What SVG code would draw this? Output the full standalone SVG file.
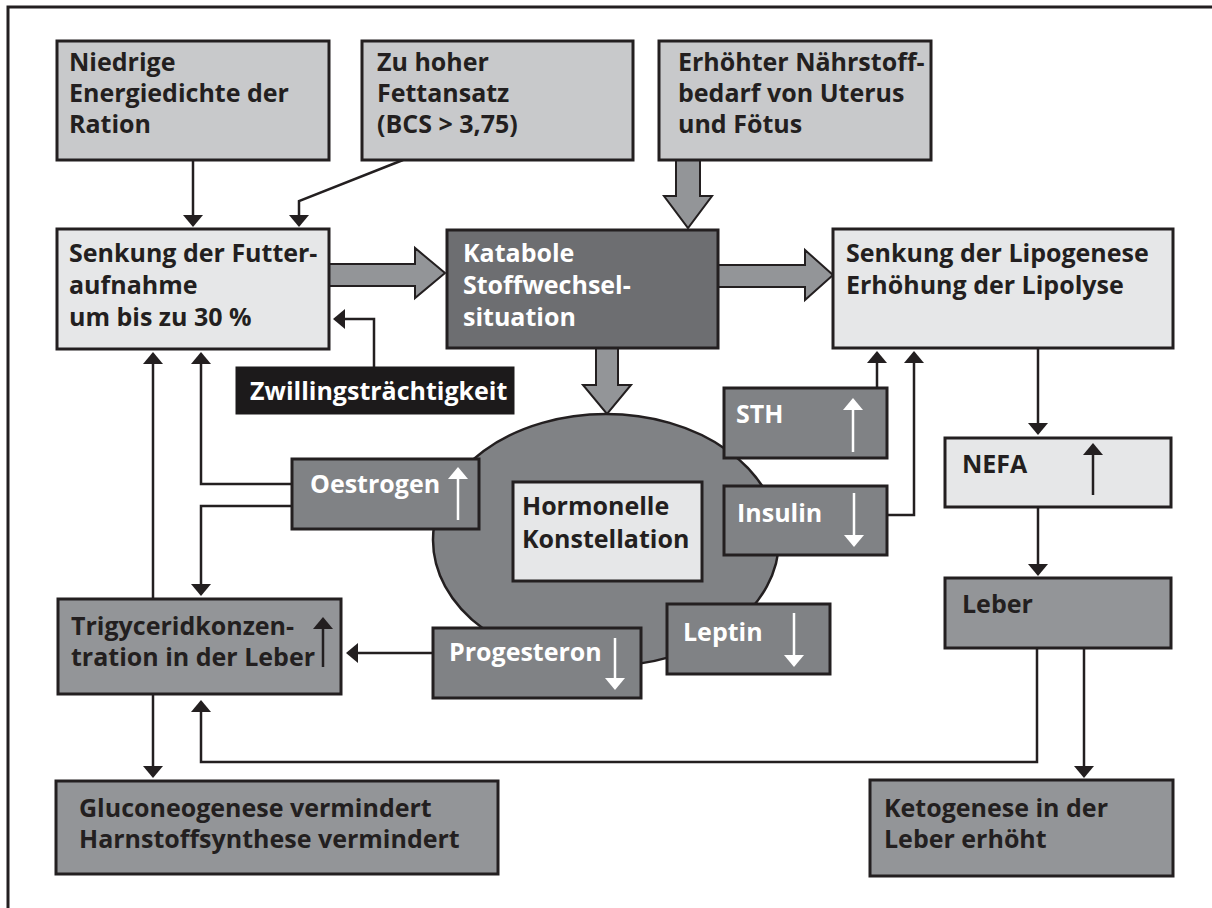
<svg xmlns="http://www.w3.org/2000/svg" width="1212" height="908" viewBox="0 0 1212 908">
<style>
  .box { stroke: #231f20; stroke-width: 3; }
  .l1 { fill: #c8c9cb; }
  .l2 { fill: #e6e7e8; }
  .m1 { fill: #939598; }
  .m2 { fill: #808285; }
  .d1 { fill: #6d6e71; }
  .blk { fill: #1c1a1b; stroke: #1c1a1b; stroke-width: 3; }
  text { font-family: "Open Sans", "Liberation Sans", sans-serif; font-weight: 700; font-size: 25px; fill: #231f20; }
  text.w { fill: #ffffff; }
  .con { fill: none; stroke: #231f20; stroke-width: 2.5; }
  .thick { fill: #939598; stroke: #231f20; stroke-width: 2; stroke-linejoin: miter; }
  .wa { stroke: #ffffff; stroke-width: 2.5; fill: none; }
  .ba { stroke: #231f20; stroke-width: 2.5; fill: none; }
</style>
<defs>
  <marker id="ah" markerUnits="userSpaceOnUse" markerWidth="12" markerHeight="20" viewBox="0 0 12 20" refX="6" refY="10" orient="auto">
    <path d="M0,0 L12,10 L0,20 z" fill="#231f20"/>
  </marker>
  <marker id="wh" markerUnits="userSpaceOnUse" markerWidth="12" markerHeight="20" viewBox="0 0 12 20" refX="6" refY="10" orient="auto">
    <path d="M0,0 L12,10 L0,20 z" fill="#ffffff"/>
  </marker>
</defs>
<rect width="1212" height="908" fill="#ffffff"/>
<path d="M8,908 V7 H1212" fill="none" stroke="#231f20" stroke-width="3"/>

<g id="connectors">
  <path class="con" d="M193,160 V221" marker-end="url(#ah)"/>
  <path class="con" d="M403,160 L299,201 V221" marker-end="url(#ah)"/>
  <path class="con" d="M374,368 V319 H339" marker-end="url(#ah)"/>
  <path class="con" d="M153,598 V358" marker-end="url(#ah)"/>
  <path class="con" d="M292,484 H201 V358" marker-end="url(#ah)"/>
  <path class="con" d="M292,506 H201 V590" marker-end="url(#ah)"/>
  <path class="con" d="M433,653 H352" marker-end="url(#ah)"/>
  <path class="con" d="M877,388 V357" marker-end="url(#ah)"/>
  <path class="con" d="M887,515 H914 V357" marker-end="url(#ah)"/>
  <path class="con" d="M1038,348 V429" marker-end="url(#ah)"/>
  <path class="con" d="M1038,507 V570" marker-end="url(#ah)"/>
  <path class="con" d="M1037,648 V762 H201 V706" marker-end="url(#ah)"/>
  <path class="con" d="M1084,648 V772" marker-end="url(#ah)"/>
  <path class="con" d="M153,694 V772" marker-end="url(#ah)"/>
  <polygon class="thick" points="329,264 415,264 415,248 445,273 415,298 415,286 329,286"/>
  <polygon class="thick" points="718,265 805,265 805,250 833,275 805,300 805,287 718,287"/>
  <polygon class="thick" points="676,160 700,160 700,196 712,196 688,228 664,196 676,196"/>
  <polygon class="thick" points="596,348 618,348 618,385 631,385 607,414 583,385 596,385"/>
</g>

<g id="n-niedrige">
  <rect class="box l1" x="57" y="41" width="272" height="119"/>
  <text x="69" y="71">Niedrige</text>
  <text x="69" y="102">Energiedichte der</text>
  <text x="69" y="133">Ration</text>
</g>
<g id="n-fettansatz">
  <rect class="box l1" x="362" y="41" width="271" height="119"/>
  <text x="377" y="71">Zu hoher</text>
  <text x="377" y="102">Fettansatz</text>
  <text x="377" y="133">(BCS &gt; 3,75)</text>
</g>
<g id="n-naehrstoff">
  <rect class="box l1" x="659" y="41" width="272" height="119"/>
  <text x="678" y="71">Erhöhter Nährstoff-</text>
  <text x="678" y="102">bedarf von Uterus</text>
  <text x="678" y="133">und Fötus</text>
</g>
<g id="n-futter">
  <rect class="box l2" x="57" y="229" width="272" height="120"/>
  <text x="69" y="262">Senkung der Futter-</text>
  <text x="69" y="294">aufnahme</text>
  <text x="69" y="326">um bis zu 30 %</text>
</g>
<g id="n-katabole">
  <rect class="box d1" x="447" y="230" width="271" height="118"/>
  <text class="w" x="463" y="262">Katabole</text>
  <text class="w" x="463" y="294">Stoffwechsel-</text>
  <text class="w" x="463" y="326">situation</text>
</g>
<g id="n-lipogenese">
  <rect class="box l2" x="833" y="229" width="340" height="119"/>
  <text x="846" y="262">Senkung der Lipogenese</text>
  <text x="846" y="294">Erhöhung der Lipolyse</text>
</g>
<g id="n-zwilling">
  <rect class="blk" x="237" y="368" width="276" height="45"/>
  <text class="w" x="250" y="400">Zwillingsträchtigkeit</text>
</g>
<g id="n-hormon">
  <ellipse cx="606" cy="540" rx="173" ry="126" fill="#808285" stroke="#231f20" stroke-width="2.5"/>
  <rect class="box l2" x="513" y="482" width="189" height="99"/>
  <text x="522" y="515">Hormonelle</text>
  <text x="522" y="548">Konstellation</text>
</g>
<g id="n-oestrogen">
  <rect class="box m2" x="292" y="459" width="187" height="70"/>
  <text class="w" x="310" y="493">Oestrogen</text>
  <path class="wa" d="M458,520 V473" marker-end="url(#wh)"/>
</g>
<g id="n-sth">
  <rect class="box m2" x="724" y="388" width="163" height="70"/>
  <text class="w" x="736" y="423">STH</text>
  <path class="wa" d="M853,452 V404" marker-end="url(#wh)"/>
</g>
<g id="n-insulin">
  <rect class="box m2" x="724" y="486" width="163" height="69"/>
  <text class="w" x="737" y="522">Insulin</text>
  <path class="wa" d="M854,493 V541" marker-end="url(#wh)"/>
</g>
<g id="n-leptin">
  <rect class="box m2" x="667" y="604" width="163" height="70"/>
  <text class="w" x="683" y="641">Leptin</text>
  <path class="wa" d="M794,613 V661" marker-end="url(#wh)"/>
</g>
<g id="n-progesteron">
  <rect class="box m2" x="433" y="628" width="208" height="70"/>
  <text class="w" x="449" y="661">Progesteron</text>
  <path class="wa" d="M615,638 V684" marker-end="url(#wh)"/>
</g>
<g id="n-trig">
  <rect class="box m1" x="58" y="599" width="283" height="95"/>
  <text x="71" y="635">Trigyceridkonzen-</text>
  <text x="71" y="666">tration in der Leber</text>
  <path class="ba" d="M323,667 V623" marker-end="url(#ah)"/>
</g>
<g id="n-nefa">
  <rect class="box l2" x="945" y="438" width="226" height="69"/>
  <text x="962" y="473">NEFA</text>
  <path class="ba" d="M1093,495 V449" marker-end="url(#ah)"/>
</g>
<g id="n-leber">
  <rect class="box m1" x="945" y="578" width="226" height="70"/>
  <text x="962" y="613">Leber</text>
</g>
<g id="n-glucose">
  <rect class="box m1" x="56" y="781" width="442" height="93"/>
  <text x="79" y="817">Gluconeogenese vermindert</text>
  <text x="79" y="848">Harnstoffsynthese vermindert</text>
</g>
<g id="n-keto">
  <rect class="box m1" x="870" y="780" width="303" height="96"/>
  <text x="884" y="817">Ketogenese in der</text>
  <text x="884" y="848">Leber erhöht</text>
</g>
</svg>
